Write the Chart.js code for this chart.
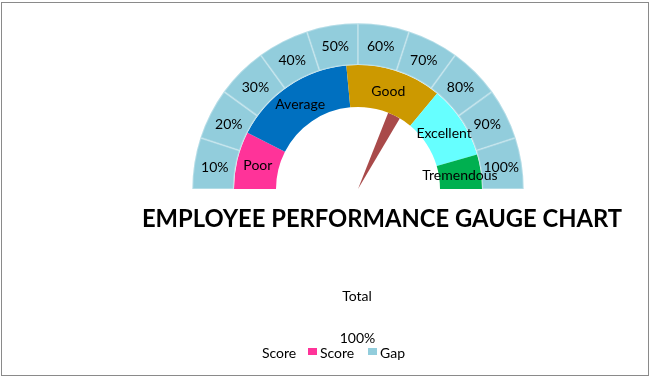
<!DOCTYPE html>
<html>
<head>
<meta charset="utf-8">
<script src="https://cdn.jsdelivr.net/npm/chart.js@4.4.0/dist/chart.umd.min.js"></script>
<style>
  html, body { margin: 0; padding: 0; background: #fff; }
  #wrap { position: relative; width: 651px; height: 377px; overflow: hidden; font-family: Lato, "Liberation Sans", sans-serif; }
  #gauge { position: absolute; left: 0; top: 0; }
  #frame { position: absolute; left: 1px; top: 2px; width: 648px; height: 374px; border: 1px solid #8a8a8a; box-sizing: border-box; }
  .txt { position: absolute; white-space: nowrap; color: #000; font-size: 14px; line-height: 1; }
  .mid { transform: translate(-50%, -50%); }
  .lft { transform: translateY(-50%); }
  #title { font-weight: bold; font-size: 25px; }
  .box { position: absolute; width: 9px; height: 7px; }
</style>
</head>
<body>
<div id="wrap">
  <canvas id="gauge" width="651" height="377"></canvas>
  <div id="frame"></div>
  <div id="title" class="txt" style="left:382px; top:217px;">EMPLOYEE PERFORMANCE GAUGE CHART</div>
  <div class="txt mid" style="left:357px; top:296px;">Total</div>
  <div class="txt mid" style="left:357.5px; top:337.5px;">100%</div>
  <div id="legend"></div>
</div>
<script>
// outer scale ring (10 steps across the half circle)
const ringLabels = ["10%", "20%", "30%", "40%", "50%", "60%", "70%", "80%", "90%", "100%"];
const ringValues = [10, 10, 10, 10, 10, 10, 10, 10, 10, 10];

// performance bands
const bandLabels = ["Poor", "Average", "Good", "Excellent", "Tremendous"];
const bandValues = [15, 32, 25, 19, 9];
const bandColors = ["#FF3399", "#0070C0", "#CC9900", "#66FFFF", "#00B050"];

// needle pie: before, pointer, after
const needleValues = [62, 5, 33];

// legend entries as in the picture
const legendNames = ["Score", "Score", "Gap"];
const legendColors = [null, "#FF3399", "#92CDDC"];
const legendLeft = [262, 308, 368];

// labels written on each arc
const arcLabels = {
  id: "arcLabels",
  afterDatasetsDraw(chart) {
    const ctx = chart.ctx;
    ctx.save();
    ctx.font = "14px Lato, 'Liberation Sans', sans-serif";
    ctx.fillStyle = "#000";
    ctx.textAlign = "center";
    ctx.textBaseline = "middle";
    [0, 1].forEach((di) => {
      const names = chart.data.datasets[di].names;
      chart.getDatasetMeta(di).data.forEach((arc, i) => {
        const p = arc.getCenterPoint();
        ctx.fillText(names[i], p.x, p.y + 1);
      });
    });
    ctx.restore();
  },
};

const ctx = document.getElementById("gauge").getContext("2d");
new Chart(ctx, {
  type: "doughnut",
  data: {
    labels: ringLabels,
    datasets: [
      {
        data: ringValues,
        names: ringLabels,
        backgroundColor: "#92CDDC",
        borderColor: "rgba(255,255,255,0.3)",
        borderWidth: 1,
        borderAlign: "inner",
        weight: 42,
      },
      {
        data: bandValues,
        names: bandLabels,
        backgroundColor: bandColors,
        borderWidth: 0,
        weight: 42,
      },
      {
        data: needleValues,
        backgroundColor: ["rgba(0,0,0,0)", "#A94A4A", "rgba(0,0,0,0)"],
        borderWidth: 0,
        weight: 82,
      },
    ],
  },
  options: {
    responsive: false,
    animation: false,
    events: [],
    rotation: -90,
    circumference: 180,
    cutout: 0,
    radius: 166,
    hoverOffset: 0,
    layout: { padding: { left: 65, right: 0, top: 0, bottom: 165 } },
    plugins: { legend: { display: false }, tooltip: { enabled: false } },
  },
  plugins: [arcLabels],
});

// legend built from the arrays
const legend = document.getElementById("legend");
for (let i = 0; i < legendNames.length; i++) {
  let x = legendLeft[i];
  if (legendColors[i]) {
    const box = document.createElement("div");
    box.className = "box";
    box.style.left = x + "px";
    box.style.top = "348px";
    box.style.background = legendColors[i];
    legend.appendChild(box);
    x += 12;
  }
  const label = document.createElement("div");
  label.className = "txt lft";
  label.style.left = x + "px";
  label.style.top = "352.5px";
  label.innerText = legendNames[i];
  legend.appendChild(label);
}

// squeeze the title to the width it has in the picture
const title = document.getElementById("title");
const k = 480 / title.offsetWidth;
title.style.transform = "translate(-50%, -50%) scaleX(" + k + ")";
</script>
</body>
</html>
